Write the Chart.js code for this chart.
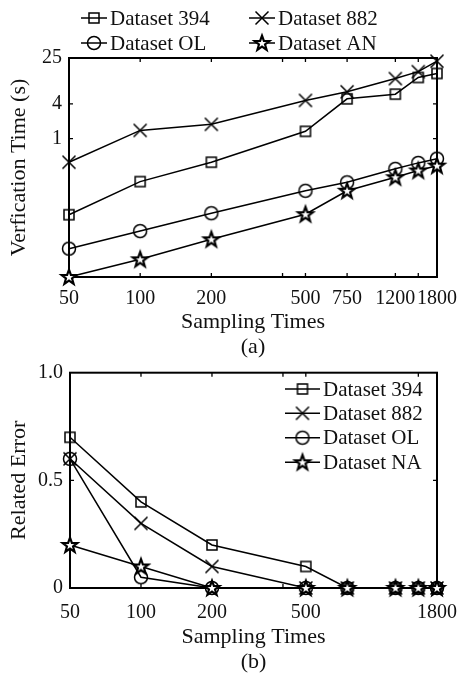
<!DOCTYPE html>
<html>
<head>
<meta charset="utf-8">
<script src="https://cdn.jsdelivr.net/npm/chart.js@4.4.0/dist/chart.umd.min.js"></script>
<style>
  html, body { margin: 0; padding: 0; background: #fff; overflow: hidden; }
  canvas { position: absolute; left: 0; }
  #timeChart { top: 0; }
  #errChart { top: 360px; }
</style>
</head>
<body>
<canvas id="timeChart" width="462" height="360"></canvas>
<canvas id="errChart" width="462" height="316"></canvas>
<script>
// ---- data ----
const SAMPLES = [50, 100, 200, 500, 750, 1200, 1500, 1800];

// (a) verification time, seconds (log scale)
const TIME_394 = [0.048, 0.18, 0.39, 1.34, 4.9, 5.9, 11.5, 13.5];
const TIME_882 = [0.39, 1.39, 1.77, 4.6, 6.5, 11, 14.5, 22];
const TIME_OL  = [0.0124, 0.025, 0.051, 0.125, 0.175, 0.30, 0.38, 0.45];
const TIME_AN  = [0.004, 0.0081, 0.018, 0.049, 0.125, 0.214, 0.28, 0.34];

// (b) related error
const ERR_394 = [0.7, 0.4, 0.2, 0.1, 0, 0, 0, 0];
const ERR_882 = [0.6, 0.3, 0.1, 0, 0, 0, 0, 0];
const ERR_OL  = [0.6, 0.05, 0, 0, 0, 0, 0, 0];
const ERR_NA  = [0.2, 0.1, 0, 0, 0, 0, 0, 0];

// ticks
const TIME_X_LABELS = [50, 100, 200, 500, 750, 1200, 1800];
const TIME_X_MARKS  = [100, 200, 400, 500, 750, 1200, 1500];
const TIME_Y_LABELS = [1, 4, 25];
const ERR_X_LABELS  = [50, 100, 200, 500, 1800];
const ERR_X_MARKS   = [100, 200, 400, 500, 1500];
const ERR_Y_LABELS  = [0, 0.5, 1];

const FAMILY = '"Liberation Serif", "DejaVu Serif", serif';
const TICK_FONT = { family: FAMILY, size: 20 };
const TITLE_FONT = { family: FAMILY, size: 22, lineHeight: 1.14 };
const LEGEND_FONT = '21px ' + FAMILY;
const INK = '#111';

// ---- hollow MATLAB-like markers ----
function marker(shape) {
  const c = document.createElement('canvas');
  c.width = 22; c.height = 22;
  const g = c.getContext('2d');
  g.strokeStyle = '#000';
  g.lineWidth = 1.5;
  g.beginPath();
  if (shape === 'square') {
    g.rect(6, 6, 10, 10);
  } else if (shape === 'circle') {
    g.arc(11, 11, 6.5, 0, Math.PI * 2);
  } else if (shape === 'x') {
    g.moveTo(4.5, 4.5); g.lineTo(17.5, 17.5);
    g.moveTo(17.5, 4.5); g.lineTo(4.5, 17.5);
  } else {
    for (let i = 0; i < 10; i++) {
      const r = i % 2 ? 3.2 : 7.8;
      const a = -Math.PI / 2 + i * Math.PI / 5;
      g.lineTo(11 + r * Math.cos(a), 11.5 + r * Math.sin(a));
    }
    g.closePath();
    g.fillStyle = '#fff';
    g.fill();
    g.lineWidth = 2.2;
  }
  g.stroke();
  return c;
}
const MK = { square: marker('square'), x: marker('x'), circle: marker('circle'), star: marker('star') };

function series(label, data, style, order) {
  return {
    label, order,
    data: data.map((y, i) => ({ x: SAMPLES[i], y })),
    borderColor: '#000', borderWidth: 1.5, tension: 0,
    pointStyle: MK[style], pointRadius: 8, pointHoverRadius: 8,
    clip: false,
  };
}

// box + inward tick marks, drawn under the lines
const framePlugin = {
  id: 'frame',
  beforeDatasetsDraw(chart, args, opts) {
    const { ctx, chartArea: a, scales } = chart;
    ctx.save();
    ctx.strokeStyle = '#000';
    ctx.lineWidth = 1.3;
    ctx.beginPath();
    opts.xMarks.forEach((v) => {
      const px = scales.x.getPixelForValue(v);
      ctx.moveTo(px, a.bottom); ctx.lineTo(px, a.bottom - 4);
      ctx.moveTo(px, a.top); ctx.lineTo(px, a.top + 4);
    });
    opts.yMarks.forEach((v) => {
      const py = scales.y.getPixelForValue(v);
      ctx.moveTo(a.left, py); ctx.lineTo(a.left + 4, py);
      ctx.moveTo(a.right, py); ctx.lineTo(a.right - 4, py);
    });
    ctx.stroke();
    ctx.lineWidth = 2;
    ctx.strokeRect(a.left, a.top, a.right - a.left, a.bottom - a.top);
    ctx.restore();
  },
};

// legend with a line sample running through the marker
const legendPlugin = {
  id: 'sampleLegend',
  afterDraw(chart, args, opts) {
    const ctx = chart.ctx;
    ctx.save();
    ctx.font = LEGEND_FONT;
    ctx.fillStyle = INK;
    ctx.textBaseline = 'middle';
    opts.items.forEach((it) => {
      const ds = chart.data.datasets[it.dataset];
      ctx.strokeStyle = '#000';
      ctx.lineWidth = 1.5;
      ctx.beginPath();
      ctx.moveTo(it.x, it.y);
      ctx.lineTo(it.x + opts.lineLength, it.y);
      ctx.stroke();
      const img = ds.pointStyle;
      ctx.drawImage(img, it.x + opts.lineLength / 2 - img.width / 2, it.y - img.height / 2);
      ctx.fillText(ds.label, it.x + opts.lineLength + opts.gap, it.y + 1);
    });
    ctx.restore();
  },
};

// label offset comes from tickLength (grid hidden) so it does not widen the side padding
function xAxis(labels, height, title, titlePad, labelGap) {
  return {
    type: 'logarithmic', min: 50, max: 1800,
    afterBuildTicks: (s) => { s.ticks = labels.map((v) => ({ value: v })); },
    afterFit: (s) => { s.height = height; },
    grid: { display: false, drawTicks: true, tickLength: labelGap }, border: { display: false },
    ticks: { autoSkip: false, maxRotation: 0, minRotation: 0, padding: 0, color: INK, font: TICK_FONT,
      callback: (v) => String(v) },
    title: { display: true, text: title, color: INK, font: TITLE_FONT, padding: { top: 0, bottom: titlePad } },
  };
}

function yAxis(type, min, max, labels, width, title, fmt) {
  return {
    type, min, max,
    afterBuildTicks: (s) => { s.ticks = labels.map((v) => ({ value: v })); },
    afterFit: (s) => { s.width = width; },
    grid: { display: false, drawTicks: true, tickLength: 7 }, border: { display: false },
    ticks: { padding: 0, color: INK, font: TICK_FONT, callback: fmt },
    title: { display: true, text: title, color: INK, font: TITLE_FONT, padding: { top: 7, bottom: 0 } },
  };
}

new Chart(document.getElementById('timeChart'), {
  type: 'line',
  data: {
    labels: SAMPLES,
    datasets: [
      series('Dataset 394', TIME_394, 'square', 3),
      series('Dataset 882', TIME_882, 'x', 2),
      series('Dataset OL', TIME_OL, 'circle', 1),
      series('Dataset AN', TIME_AN, 'star', 0),
    ],
  },
  plugins: [framePlugin, legendPlugin],
  options: {
    responsive: false, animation: false, devicePixelRatio: 1,
    layout: { padding: { top: 58, right: 25, bottom: 0, left: 0 } },
    plugins: {
      legend: { display: false }, tooltip: { enabled: false },
      frame: { xMarks: TIME_X_MARKS, yMarks: TIME_Y_LABELS },
      sampleLegend: {
        lineLength: 26, gap: 3,
        items: [
          { dataset: 0, x: 81, y: 18 }, { dataset: 1, x: 249, y: 18 },
          { dataset: 2, x: 81, y: 43 }, { dataset: 3, x: 249, y: 43 },
        ],
      },
    },
    scales: {
      x: xAxis(TIME_X_LABELS, 83, ['Sampling Times', '(a)'], 0, 10),
      y: yAxis('logarithmic', 0.004, 25, TIME_Y_LABELS, 69, 'Verfication Time (s)', (v) => String(v)),
    },
  },
});

new Chart(document.getElementById('errChart'), {
  type: 'line',
  data: {
    labels: SAMPLES,
    datasets: [
      series('Dataset 394', ERR_394, 'square', 3),
      series('Dataset 882', ERR_882, 'x', 2),
      series('Dataset OL', ERR_OL, 'circle', 1),
      series('Dataset NA', ERR_NA, 'star', 0),
    ],
  },
  plugins: [framePlugin, legendPlugin],
  options: {
    responsive: false, animation: false, devicePixelRatio: 1,
    layout: { padding: { top: 12.7, right: 25, bottom: 0, left: 0 } },
    plugins: {
      legend: { display: false }, tooltip: { enabled: false },
      frame: { xMarks: ERR_X_MARKS, yMarks: [0.5] },
      sampleLegend: {
        lineLength: 35, gap: 3,
        items: [
          { dataset: 0, x: 285, y: 29 }, { dataset: 1, x: 285, y: 53.3 },
          { dataset: 2, x: 285, y: 77.7 }, { dataset: 3, x: 285, y: 102.3 },
        ],
      },
    },
    scales: {
      x: xAxis(ERR_X_LABELS, 88, ['Sampling Times', '(b)'], 1.5, 13),
      y: yAxis('linear', 0, 1, ERR_Y_LABELS, 70, 'Related Error', (v) => (v === 0 ? '0' : v.toFixed(1))),
    },
  },
});
</script>
</body>
</html>
